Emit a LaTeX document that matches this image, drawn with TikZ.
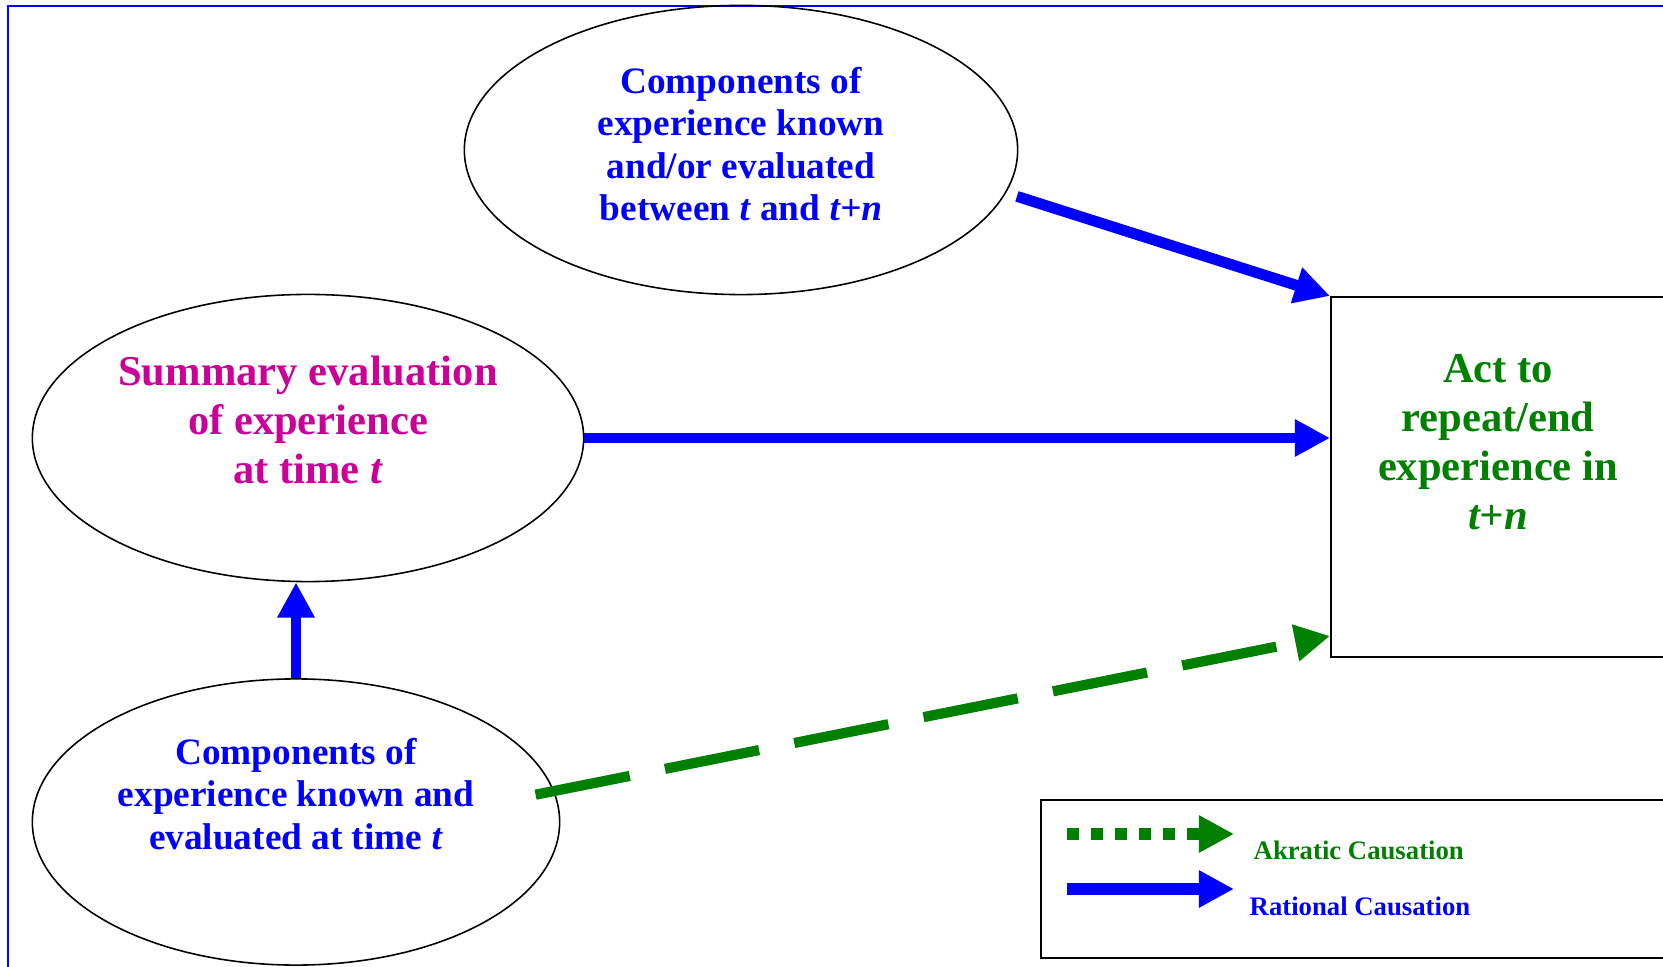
\documentclass[tikz,border=0pt]{standalone}
\usepackage{fontspec}
\setmainfont{Liberation Serif}
\usetikzlibrary{arrows.meta,shapes.geometric,positioning}
\definecolor{ratblue}{RGB}{0,0,255}
\definecolor{akrgreen}{RGB}{0,128,0}
\definecolor{summag}{RGB}{204,0,153}

\begin{document}
\begin{tikzpicture}[
			x=0.01cm, y=-0.01cm,
			oval/.style={
				ellipse,
				draw,
				line width=0.45pt,
				inner sep=0
			},
			framebox/.style={
				draw,
				line width=0.6pt,
				inner sep=0,
				anchor=north west
			},
			comptext/.style={
				align=center,
				text=ratblue,
				font=\fontsize{10.6}{12.1}\selectfont\bfseries
			},
			bigtext/.style={
				align=center,
				font=\fontsize{12.1}{13.9}\selectfont\bfseries
			},
			legendtext/.style={
				inner sep=0,
				anchor=base west,
				font=\fontsize{7.6}{9}\selectfont\bfseries
			},
			rational/.style={
				draw=ratblue,
				line width=3.1pt,
				-{Triangle[length=10pt,width=10pt]}
			},
			akratic/.style={
				draw=akrgreen,
				line width=2.9pt,
				dash pattern=on 27.3pt off 10.2pt,
				-{Triangle[length=10pt,width=10pt]}
			}
		]

		\useasboundingbox (0,0) rectangle (1663,967);
		\draw[ratblue, line width=0.6pt] (8,6) rectangle (1720,1020);

		% the three ellipses
		\node [oval, minimum width=5.53cm, minimum height=2.89cm] (later) at (741,150) {};
		\node [comptext] (latertxt) at (741,144) {Components of\\experience known\\and/or evaluated\\between \textit{t} and \textit{t+n}};

		\node [oval, minimum width=5.51cm, minimum height=2.87cm] (summary) at (308,438) {};
		\node [bigtext, text=summag] (summarytxt) at (308,420) {Summary evaluation\\of experience\\at time \textit{t}};

		\node [oval, minimum width=5.27cm, minimum height=2.86cm] (known) at (296,822) {};
		\node [comptext] (knowntxt) at (296,794) {Components of\\experience known and\\evaluated at time \textit{t}};

		% the act
		\node [framebox, line width=0.5pt, minimum width=3.36cm, minimum height=3.6cm] (act) at (1330,296) {};
		\node [bigtext, text=akrgreen] (acttxt) at (1498,442) {Act to\\repeat/end\\experience in\\\textit{t+n}};

		\draw[rational] ([xshift=1.3mm]later.-10) -- (act.north west);
		\draw[rational] (summary.east) -- (summary.east -| act.west);
		\draw[rational] (known.north) -- (known.north |- summary.south);
		\draw[akratic] ([xshift=-2mm]known.6) -- ([yshift=2.2mm]act.south west);

		% legend
		\node [framebox, minimum width=6.6cm, minimum height=1.58cm] (legend) at (1040,799) {};
		\coordinate (akrA) at (1067,834);
		\coordinate (akrB) at (1234,834);
		\coordinate (ratA) at (1067,889);
		\coordinate (ratB) at (1234,889);
		\draw[akratic, line width=3.3pt, dash pattern=on 3.4pt off 3.4pt] (akrA) -- (akrB);
		\draw[rational, line width=3.3pt] (ratA) -- (ratB);
		\node [legendtext, text=akrgreen] (akrtxt) at (1253,859) {Akratic Causation};
		\node [legendtext, text=ratblue] (rattxt) at (1249,915) {Rational Causation};

		%\node [right=2mm of akrB] {Akratic Causation};
	\end{tikzpicture}
\end{document}
